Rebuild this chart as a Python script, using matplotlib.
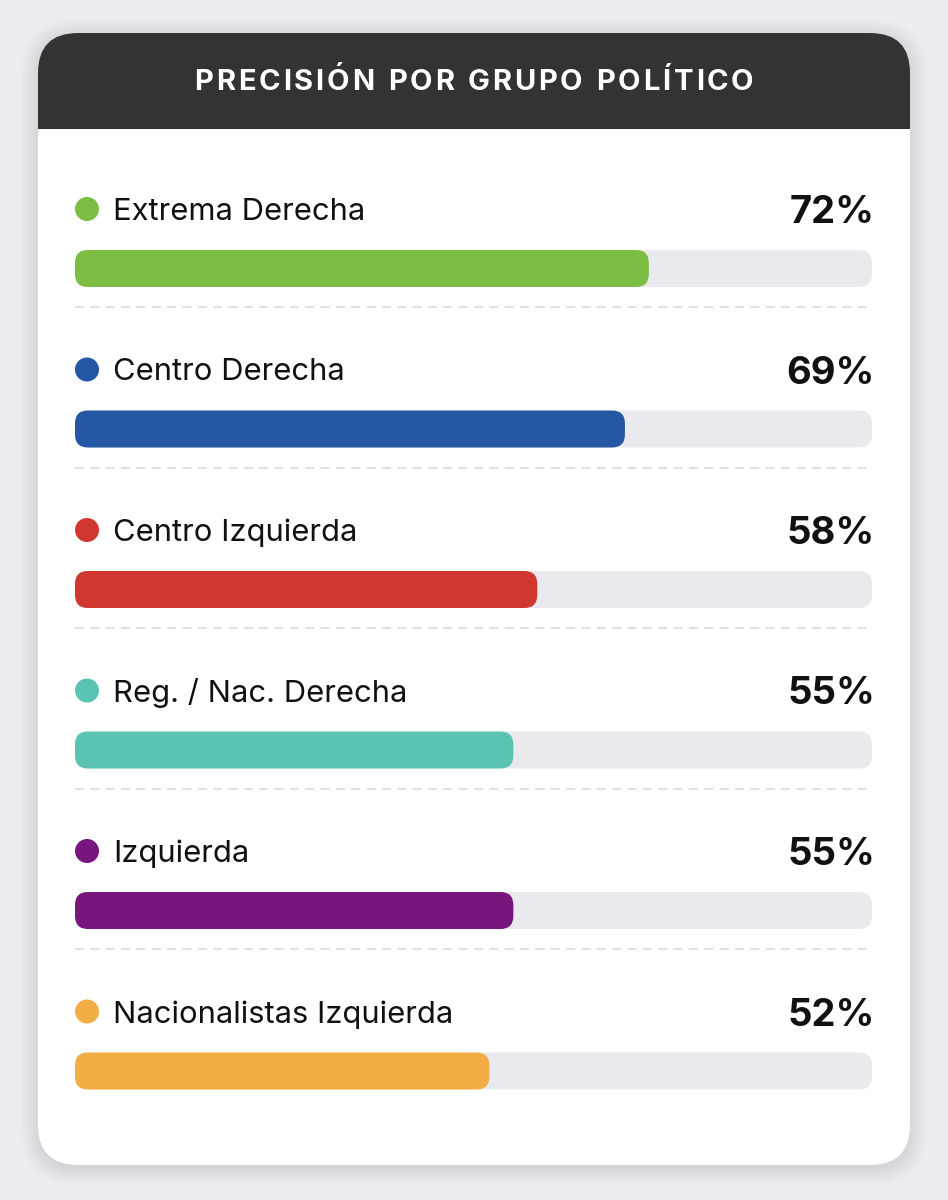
import matplotlib
matplotlib.use("Agg")
import matplotlib.pyplot as plt
from matplotlib.patches import FancyBboxPatch, Circle, Rectangle

groups = ["Extrema Derecha", "Centro Derecha", "Centro Izquierda",
          "Reg. / Nac. Derecha", "Izquierda", "Nacionalistas Izquierda"]
accuracy = [72, 69, 58, 55, 55, 52]
colors = ["#7CBD43", "#2457A4", "#D0382F", "#5BC3B3", "#78167D", "#F2AE44"]
title = "PRECISIÓN POR GRUPO POLÍTICO"

W, H = 948, 1200
plt.rcParams['font.family'] = ['Inter', 'DejaVu Sans']

fig = plt.figure(figsize=(W / 100, H / 100), dpi=100)
fig.patch.set_facecolor("#EDEDF1")
ax = fig.add_axes([0, 0, 1, 1])
ax.set_xlim(0, W)
ax.set_ylim(H, 0)
ax.axis("off")

# card + soft shadow
cx0, cy0, cx1, cy1 = 38, 33, 910, 1165
rad = 40
for i in range(12):
    g = i * 1.6
    ax.add_patch(FancyBboxPatch((cx0 - g, cy0 - g + 3), cx1 - cx0 + 2 * g, cy1 - cy0 + 2 * g,
                                boxstyle=f"round,pad=0,rounding_size={rad + g}",
                                fc="black", ec="none", alpha=0.006, zorder=1))
ax.add_patch(FancyBboxPatch((cx0, cy0), cx1 - cx0, cy1 - cy0,
                            boxstyle=f"round,pad=0,rounding_size={rad}",
                            fc="white", ec="none", zorder=2))

# header with rounded top only
hy1 = 129
ax.add_patch(FancyBboxPatch((cx0, cy0), cx1 - cx0, hy1 - cy0 + rad + 5,
                            boxstyle=f"round,pad=0,rounding_size={rad}",
                            fc="#333333", ec="none", zorder=3))
ax.add_patch(Rectangle((cx0, hy1), cx1 - cx0, rad + 10, fc="white", ec="none", zorder=4))

# title with letter spacing
renderer = fig.canvas.get_renderer()
spacing = 2.8
tsize = 21
pieces = []
total = 0
for ch in title:
    t = ax.text(0, 82, ch, color="white", fontsize=tsize, fontweight="bold",
                ha="left", va="center", zorder=5)
    w = t.get_window_extent(renderer).width
    if ch == " ":
        w = tsize * 100 / 72 * 0.28
    pieces.append((t, w))
    total += w + spacing
total -= spacing
x = (cx0 + cx1) / 2 - total / 2
for t, w in pieces:
    t.set_x(x)
    x += w + spacing

# rows
tx0, tx1 = 75, 872
bar_h = 37
row_gap = 160.5
for i, (name, val, col) in enumerate(zip(groups, accuracy, colors)):
    ly = 209 + i * row_gap
    by = 250 + i * row_gap
    ax.add_patch(Circle((87, ly), 12, fc=col, ec="none", zorder=5))
    ax.text(113, ly, name, fontsize=22.3, color="#111111", ha="left", va="center_baseline", zorder=5)
    ax.text(tx1 + 3, ly, f"{val}%", fontsize=27.5, fontweight="bold", color="#111111",
            ha="right", va="center_baseline", zorder=5)
    ax.add_patch(FancyBboxPatch((tx0, by), tx1 - tx0, bar_h,
                                boxstyle="round,pad=0,rounding_size=13",
                                fc="#EAEAEE", ec="none", zorder=5))
    ax.add_patch(FancyBboxPatch((tx0, by), (tx1 - tx0) * val / 100, bar_h,
                                boxstyle="round,pad=0,rounding_size=13",
                                fc=col, ec="none", zorder=6))
    if i < len(groups) - 1:
        sy = by + bar_h + 20
        ax.plot([tx0, tx1], [sy, sy], color="#DDDDE1", lw=1.3,
                dashes=(5, 3.5), zorder=5, solid_capstyle="butt")

fig.savefig("out.png", dpi=100, facecolor=fig.get_facecolor())
